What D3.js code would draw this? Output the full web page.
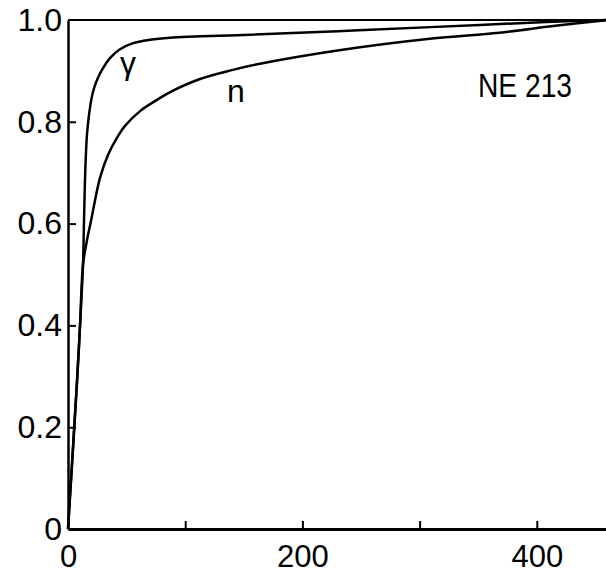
<!DOCTYPE html>
<html>
<head>
<meta charset="utf-8">
<script src="https://cdn.jsdelivr.net/npm/d3@7"></script>
<style>
  body { margin: 0; background: #fff; }
  svg { display: block; }
  .axis text { font-family: "Liberation Sans", Arial, sans-serif; font-size: 32px; fill: #000; }
  .x.axis text { font-size: 31px; }
  .axis path, .axis line { stroke: #000; }
  .lbl { font-family: "Liberation Sans", Arial, sans-serif; fill: #000; }
</style>
</head>
<body>
<script>
// curve values (x = channel, y = normalised value)
var gammaX = [0, 7.7, 10.2, 12.8, 13.6, 14.2, 15, 16.2, 18, 20, 22.5, 25.5, 29, 35.8, 44, 55, 70, 87, 155, 230, 309, 408, 460];
var gammaY = [0, 0.29, 0.397, 0.519, 0.600, 0.660, 0.720, 0.775, 0.815, 0.845, 0.868, 0.886, 0.902, 0.925, 0.942, 0.954, 0.961, 0.965, 0.971, 0.978, 0.986, 0.996, 1.0];

var neutronX = [0, 7.7, 10.2, 12.8, 16, 19.6, 23, 27.3, 34.1, 42.6, 48.6, 62, 75.9, 84.4, 112.6, 140.7, 163.8, 230, 308.7, 368, 414, 460];
var neutronY = [0, 0.29, 0.397, 0.519, 0.565, 0.605, 0.645, 0.690, 0.735, 0.772, 0.792, 0.822, 0.843, 0.855, 0.884, 0.902, 0.914, 0.940, 0.963, 0.975, 0.988, 1.0];

var xTicks = [0, 100, 200, 300, 400];
var xLabels = [0, 200, 400];
var yTicks = [0, 0.2, 0.4, 0.6, 0.8, 1.0];

var curves = [
  {name: "γ", xs: gammaX, ys: gammaY},
  {name: "n", xs: neutronX, ys: neutronY}
];

var width = 606, height = 574;

var x = d3.scaleLinear()
  .domain([0, 500])
  .range([68, 654]);

var y = d3.scaleLinear()
  .domain([0, 1])
  .range([529, 20]);

var svg = d3.select("body").append("svg")
  .attr("width", width)
  .attr("height", height);

var xAxis = d3.axisBottom(x)
  .tickValues(xTicks)
  .tickSizeInner(-8)
  .tickSizeOuter(0)
  .tickPadding(16)
  .tickFormat(function(d) { return xLabels.indexOf(d) >= 0 ? d : ""; });

var yAxis = d3.axisLeft(y)
  .tickValues(yTicks)
  .tickSizeInner(-8)
  .tickSizeOuter(0)
  .tickPadding(6)
  .tickFormat(function(d) { return d === 0 ? "0" : d3.format(".1f")(d); });

var gx = svg.append("g")
  .attr("class", "x axis")
  .attr("transform", "translate(0," + y(0) + ")")
  .call(xAxis);
gx.select(".domain").attr("stroke-width", 3);
gx.selectAll(".tick line").attr("stroke-width", 2);
gx.selectAll(".tick").filter(function(d) { return d === 0; }).select("line").remove();

var gy = svg.append("g")
  .attr("class", "y axis")
  .attr("transform", "translate(" + x(0) + ",0)")
  .call(yAxis);
gy.select(".domain").attr("stroke-width", 2.5);
gy.selectAll(".tick line").attr("stroke-width", 2);
gy.selectAll(".tick").filter(function(d) { return d === 0 || d === 1; }).select("line").remove();

// top frame line
svg.append("line")
  .attr("x1", x(0)).attr("x2", x(500))
  .attr("y1", y(1)).attr("y2", y(1))
  .attr("stroke", "#000")
  .attr("stroke-width", 2);

var line = d3.line()
  .x(function(d) { return x(d[0]); })
  .y(function(d) { return y(d[1]); })
  .curve(d3.curveCatmullRom.alpha(0.5));

svg.selectAll(".curve")
  .data(curves)
  .enter().append("path")
  .attr("class", "curve")
  .attr("fill", "none")
  .attr("stroke", "#000")
  .attr("stroke-width", 2.5)
  .attr("d", function(c) {
    return line(c.xs.map(function(v, i) { return [v, c.ys[i]]; }));
  });

// curve labels
svg.append("text")
  .attr("class", "lbl")
  .attr("x", 128).attr("y", 74)
  .attr("text-anchor", "middle")
  .style("font-size", "32px")
  .text("γ");

svg.append("text")
  .attr("class", "lbl")
  .attr("x", 236).attr("y", 102)
  .attr("text-anchor", "middle")
  .style("font-size", "32px")
  .text("n");

svg.append("text")
  .attr("class", "lbl")
  .attr("x", 478).attr("y", 97)
  .style("font-size", "34px")
  .attr("textLength", 94)
  .attr("lengthAdjust", "spacingAndGlyphs")
  .text("NE 213");
</script>
</body>
</html>
